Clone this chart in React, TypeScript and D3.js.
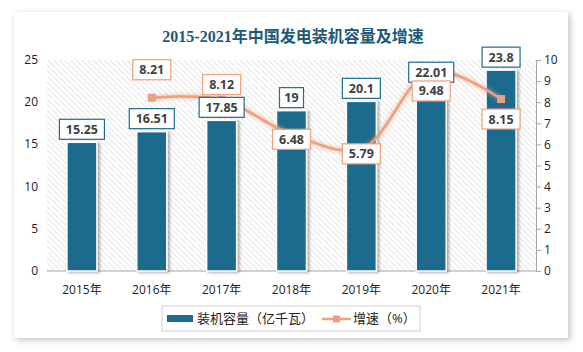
import React, { useRef, useEffect } from "react";
import * as d3 from "d3";

const years = ["2015年", "2016年", "2017年", "2018年", "2019年", "2020年", "2021年"];
const capacity = [15.25, 16.51, 17.85, 19, 20.1, 22.01, 23.8];
const growth: (number | null)[] = [null, 8.21, 8.12, 6.48, 5.79, 9.48, 8.15];
const leftTicks = [0, 5, 10, 15, 20, 25];
const rightTicks = [0, 1, 2, 3, 4, 5, 6, 7, 8, 9, 10];
// where each growth label box sits relative to its point (Excel auto placement)
const growthLabelShift = [0, -28, -15, 5, 5, 20, 20];

const W = 583;
const H = 352;
const barColor = "#1f6b8e";
const lineColor = "#ee9f7c";
const font = "'Open Sans', 'Noto Sans CJK SC', sans-serif";

const App = () => {
  const ref = useRef<HTMLDivElement>(null);

  useEffect(() => {
    d3.select(ref.current).selectAll("*").remove();
    const margin = { top: 60, right: 47, bottom: 81, left: 47 };
    const plotW = 536 - margin.left;
    const plotH = 271 - margin.top;

    const svg = d3
      .select(ref.current)
      .append("svg")
      .attr("width", W)
      .attr("height", H)
      .style("display", "block");

    const defs = svg.append("defs");
    const card = defs.append("filter").attr("id", "card").attr("x", "-5%").attr("y", "-5%").attr("width", "110%").attr("height", "110%");
    card.append("feDropShadow").attr("dx", 2).attr("dy", 2).attr("stdDeviation", 3).attr("flood-color", "#000").attr("flood-opacity", 0.25);
    const barSh = defs.append("filter").attr("id", "barsh").attr("x", "-30%").attr("y", "-10%").attr("width", "160%").attr("height", "120%");
    barSh.append("feDropShadow").attr("dx", 2).attr("dy", 1).attr("stdDeviation", 1.5).attr("flood-color", "#000").attr("flood-opacity", 0.35);
    const glow = defs.append("filter").attr("id", "glow").attr("x", "-10%").attr("y", "-30%").attr("width", "120%").attr("height", "160%");
    glow.append("feGaussianBlur").attr("in", "SourceGraphic").attr("stdDeviation", 2).attr("result", "b");
    const merge = glow.append("feMerge");
    merge.append("feMergeNode").attr("in", "b");
    merge.append("feMergeNode").attr("in", "SourceGraphic");
    const pat = defs.append("pattern").attr("id", "hatch").attr("width", 4).attr("height", 4).attr("patternUnits", "userSpaceOnUse").attr("patternTransform", "rotate(-45)");
    pat.append("rect").attr("width", 4).attr("height", 4).attr("fill", "#fff");
    pat.append("line").attr("x1", 0).attr("y1", 0).attr("x2", 0).attr("y2", 4).attr("stroke", "#d6d6d6").attr("stroke-width", 1.2);

    svg.append("rect").attr("width", W).attr("height", H).attr("fill", "#fff");
    svg.append("rect").attr("x", 14).attr("y", 12).attr("width", 554).attr("height", 326).attr("fill", "#fff").attr("filter", "url(#card)");

    svg
      .append("text")
      .attr("x", 293)
      .attr("y", 42)
      .attr("text-anchor", "middle")
      .attr("font-family", "'Liberation Serif', 'Noto Sans CJK SC', serif")
      .attr("font-weight", "bold")
      .attr("font-size", 16)
      .attr("fill", "#1d5a78")
      .text("2015-2021年中国发电装机容量及增速");

    const g = svg.append("g").attr("transform", `translate(${margin.left},${margin.top})`);

    const x = d3.scaleBand().domain(years).range([0, plotW]);
    const yL = d3.scaleLinear().domain([0, 25]).range([plotH, 0]);
    const yR = d3.scaleLinear().domain([0, 10]).range([plotH, 0]);

    g.append("rect").attr("width", plotW).attr("height", plotH).attr("fill", "url(#hatch)");

    // left axis labels
    g.selectAll(".lt")
      .data(leftTicks)
      .enter()
      .append("text")
      .attr("x", -9)
      .attr("y", (d) => yL(d) + 4)
      .attr("text-anchor", "end")
      .attr("font-family", font)
      .attr("font-size", 12)
      .attr("fill", "#222")
      .text((d) => d);

    // right axis
    const axR = g
      .append("g")
      .attr("transform", `translate(${plotW},0)`)
      .call(d3.axisRight(yR).tickValues(rightTicks).tickSize(5).tickPadding(3));
    axR.selectAll("path,line").attr("stroke", "#a6a6a6");
    axR.selectAll("text").attr("font-family", font).attr("font-size", 12).attr("fill", "#222");

    // x axis
    g.append("line").attr("x1", 0).attr("x2", plotW).attr("y1", plotH).attr("y2", plotH).attr("stroke", "#a6a6a6");
    g.selectAll(".xl")
      .data(years)
      .enter()
      .append("text")
      .attr("x", (d) => x(d)! + x.bandwidth() / 2)
      .attr("y", plotH + 23)
      .attr("text-anchor", "middle")
      .attr("font-family", font)
      .attr("font-size", 12)
      .attr("fill", "#222")
      .text((d) => d);

    const bw = 30;
    g.selectAll(".bar")
      .data(capacity)
      .enter()
      .append("rect")
      .attr("x", (d, i) => x(years[i])! + x.bandwidth() / 2 - bw / 2)
      .attr("y", (d) => yL(d))
      .attr("width", bw)
      .attr("height", (d) => plotH - yL(d))
      .attr("fill", barColor)
      .attr("stroke", "#fff")
      .attr("stroke-width", 1.5)
      .attr("filter", "url(#barsh)");

    const pts = growth
      .map((v, i) => ({ v, i }))
      .filter((p) => p.v !== null) as { v: number; i: number }[];
    const cx = (i: number) => x(years[i])! + x.bandwidth() / 2;

    const line = d3
      .line<{ v: number; i: number }>()
      .x((p) => cx(p.i))
      .y((p) => yR(p.v))
      .curve(d3.curveCatmullRom.alpha(0.5));

    g.append("path")
      .attr("d", line(pts))
      .attr("fill", "none")
      .attr("stroke", lineColor)
      .attr("stroke-width", 2.5)
      .attr("filter", "url(#glow)");

    g.selectAll(".mk")
      .data(pts)
      .enter()
      .append("rect")
      .attr("x", (p) => cx(p.i) - 4)
      .attr("y", (p) => yR(p.v) - 4)
      .attr("width", 8)
      .attr("height", 8)
      .attr("fill", "#e9a083");

    const labelBox = (cxv: number, cyv: number, txt: string, border: string) => {
      const w = txt.length * 7 + 10;
      const lg = g.append("g");
      lg.append("rect")
        .attr("x", cxv - w / 2)
        .attr("y", cyv - 10)
        .attr("width", w)
        .attr("height", 20)
        .attr("fill", "#fff")
        .attr("stroke", border)
        .attr("stroke-width", 1.2);
      lg.append("text")
        .attr("x", cxv)
        .attr("y", cyv + 4.5)
        .attr("text-anchor", "middle")
        .attr("font-family", font)
        .attr("font-weight", "bold")
        .attr("font-size", 12.5)
        .attr("fill", "#404040")
        .text(txt);
    };

    capacity.forEach((v, i) => labelBox(cx(i), yL(v) - 13, String(v), barColor));
    pts.forEach((p) => labelBox(cx(p.i), yR(p.v) + growthLabelShift[p.i], String(p.v), lineColor));

    // legend
    const lg = svg.append("g");
    lg.append("rect").attr("x", 162).attr("y", 306).attr("width", 258).attr("height", 25).attr("fill", "#fff").attr("stroke", "#d0d0d0");
    lg.append("rect").attr("x", 167).attr("y", 315).attr("width", 26).attr("height", 7).attr("fill", barColor);
    lg.append("text").attr("x", 197).attr("y", 323).attr("font-family", font).attr("font-size", 13).attr("fill", "#222").text("装机容量（亿千瓦）");
    lg.append("line").attr("x1", 322).attr("x2", 351).attr("y1", 319).attr("y2", 319).attr("stroke", lineColor).attr("stroke-width", 2.5);
    lg.append("rect").attr("x", 333).attr("y", 315.5).attr("width", 7).attr("height", 7).attr("fill", "#e9a083");
    lg.append("text").attr("x", 353).attr("y", 323).attr("font-family", font).attr("font-size", 13).attr("fill", "#222").text("增速（%）");
  }, []);

  return <div ref={ref} style={{ position: "absolute", left: 0, top: 0 }}></div>;
};

export default App;
